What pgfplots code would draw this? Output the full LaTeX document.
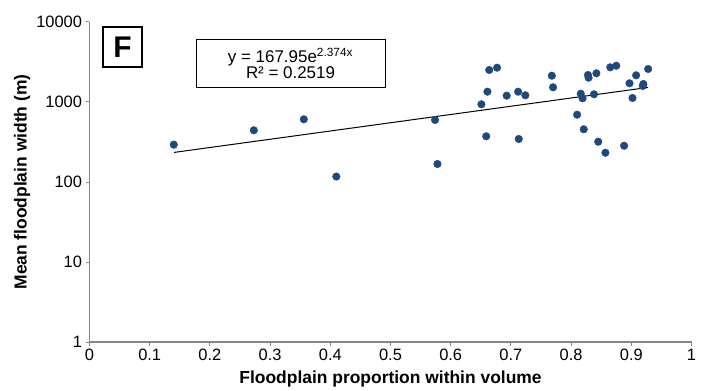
\documentclass[border=0pt]{standalone}
\usepackage{fontspec}
\setmainfont{Liberation Sans}
\usepackage{pgfplots}
\pgfplotsset{compat=1.18}
\definecolor{axisgray}{HTML}{868686}
\definecolor{dotblue}{HTML}{1F497D}
\begin{document}
\begin{tikzpicture}[x=1bp,y=1bp]
\begin{axis}[
  at={(0,0)}, anchor=south west,
  scale only axis, width=602bp, height=320bp,
  xmin=0, xmax=1, ymode=log, ymin=1, ymax=10000,
  axis x line*=bottom, axis y line*=left,
  axis line style={draw=axisgray, line width=1.2bp, -},
  xtick={0,0.1,0.2,0.3,0.4,0.5,0.6,0.7,0.8,0.9,1},
  xticklabels={0,0.1,0.2,0.3,0.4,0.5,0.6,0.7,0.8,0.9,1},
  ytick={1,10,100,1000,10000},
  yticklabels={1,10,100,1000,10000},
  minor tick length=0pt, minor tick style={draw=none},
  tick align=outside, major tick length=4bp,
  tick style={draw=axisgray, line width=1bp},
  ticklabel style={font=\fontsize{16.5}{18}\selectfont},
  xlabel={Floodplain proportion within volume},
  ylabel={Mean floodplain width (m)},
  label style={font=\bfseries\fontsize{17.5}{20}\selectfont},
  x label style={at={(rel axis cs:0.5,-0.1156)}, anchor=center},
  y label style={at={(rel axis cs:-0.1121,0.5)}, anchor=center, rotate=0},
  clip=false,
]
\addplot[only marks, mark=*, mark size=3.8bp, mark options={fill=dotblue, draw=dotblue}] coordinates {
(0.140,293) (0.273,443) (0.356,608) (0.410,117)
(0.574,596) (0.578,168) (0.651,936) (0.661,1345)
(0.664,2512) (0.659,373) (0.677,2685) (0.693,1199)
(0.712,1345) (0.724,1213) (0.713,345) (0.768,2132)
(0.770,1527) (0.810,694) (0.816,1270) (0.819,1112)
(0.821,456) (0.828,2176) (0.829,2013) (0.842,2285)
(0.838,1248) (0.845,319) (0.857,232) (0.865,2714)
(0.875,2843) (0.888,284) (0.897,1713) (0.902,1122)
(0.908,2157) (0.919,1585) (0.920,1679) (0.928,2585)
};
\addplot[black, line width=1bp, no marks] coordinates {(0.1404,234.3) (0.928,1520.5)};
\end{axis}
\node[draw, line width=1.3bp, minimum width=39bp, minimum height=40bp, inner sep=0pt, font=\bfseries\fontsize{30}{32}\selectfont] at (33,295) {F};
\node[draw, line width=1bp, minimum width=189bp, minimum height=48bp, inner sep=0pt, align=center, font=\fontsize{17}{16}\selectfont] at (201,278.7) {y = 167.95e\textsuperscript{2.374x}\\R² = 0.2519};
\pgfresetboundingbox
\useasboundingbox (-89.5,-48) rectangle (615.5,342);
\end{tikzpicture}
\end{document}
